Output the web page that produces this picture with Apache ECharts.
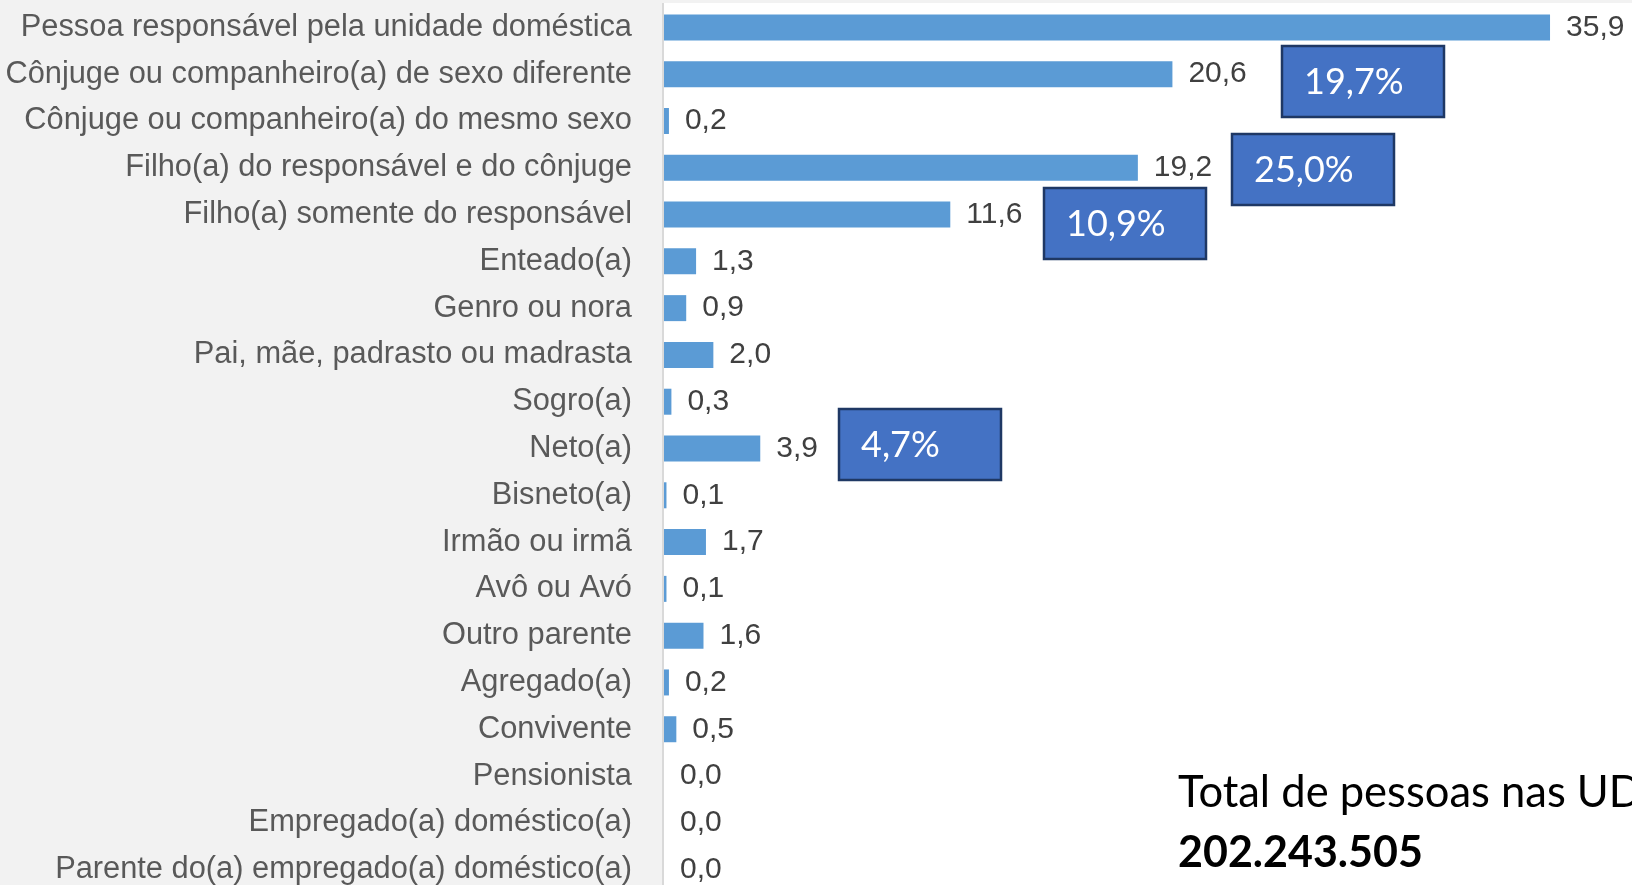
<!DOCTYPE html>
<html>
<head>
<meta charset="utf-8">
<script src="https://cdn.jsdelivr.net/npm/echarts@6/dist/echarts.min.js"></script>
<style>
  html, body { margin: 0; padding: 0; background: #f2f2f2; overflow: hidden; }
  #chart { width: 1632px; height: 900px; }
</style>
</head>
<body>
<div id="chart"></div>
<script>
// distribuição das pessoas por relação com o responsável (%)
const categories = [
  'Pessoa responsável pela unidade doméstica',
  'Cônjuge ou companheiro(a) de sexo diferente',
  'Cônjuge ou companheiro(a) do mesmo sexo',
  'Filho(a) do responsável e do cônjuge',
  'Filho(a) somente do responsável',
  'Enteado(a)',
  'Genro ou nora',
  'Pai, mãe, padrasto ou madrasta',
  'Sogro(a)',
  'Neto(a)',
  'Bisneto(a)',
  'Irmão ou irmã',
  'Avô ou Avó',
  'Outro parente',
  'Agregado(a)',
  'Convivente',
  'Pensionista',
  'Empregado(a) doméstico(a)',
  'Parente do(a) empregado(a) doméstico(a)'
];
const values = [35.9, 20.6, 0.2, 19.2, 11.6, 1.3, 0.9, 2.0, 0.3, 3.9, 0.1, 1.7, 0.1, 1.6, 0.2, 0.5, 0.0, 0.0, 0.0];

// caixas de destaque
const boxTexts = ['19,7%', '25,0%', '10,9%', '4,7%'];
const totalLabel = 'Total de pessoas nas UD';
const totalValue = '202.243.505';

const myChart = echarts.init(document.getElementById('chart'));

const boxPos = [[1282, 46], [1232, 134], [1044, 188], [839, 409]];
const boxes = boxTexts.map((t, i) => ({
  type: 'group',
  x: boxPos[i][0],
  y: boxPos[i][1],
  children: [
    { type: 'rect', shape: { x: 0, y: 0, width: 162, height: 71 },
      style: { fill: '#4472c4', stroke: '#1f3864', lineWidth: 2.5 } },
    { type: 'text', x: 22, y: 36,
      style: { text: t, fill: '#fff', font: '36px Lato, "Open Sans", sans-serif', verticalAlign: 'middle' } }
  ]
}));

const option = {
  backgroundColor: '#f2f2f2',
  animation: false,
  graphic: [
    { type: 'rect', z: -10, shape: { x: 664, y: 3, width: 968, height: 900 }, style: { fill: '#ffffff' } },
    { type: 'rect', z: -9, shape: { x: 662, y: 3, width: 2, height: 900 }, style: { fill: '#d9d9d9' } },
    ...boxes,
    { type: 'text', x: 1178, y: 793,
      style: { text: totalLabel, fill: '#000', font: '43.5px Lato, "Open Sans", sans-serif', verticalAlign: 'middle' } },
    { type: 'text', x: 1178, y: 853,
      style: { text: totalValue, fill: '#000', font: 'bold 43px Lato, "Open Sans", sans-serif', verticalAlign: 'middle' } }
  ],
  grid: { left: 664, right: 79.5, top: 4, height: 889, containLabel: false },
  xAxis: {
    type: 'value', min: 0, max: 36, show: false
  },
  yAxis: {
    type: 'category',
    inverse: true,
    data: categories,
    axisLine: { show: false },
    axisTick: { show: false },
    axisLabel: {
      margin: 32,
      color: '#595959',
      fontSize: 30.8,
      padding: [4, 0, 0, 0],
      fontFamily: '"Liberation Sans", Arial, sans-serif'
    }
  },
  series: [
    {
      type: 'bar',
      data: values,
      barWidth: 26,
      itemStyle: { color: '#5b9bd5' },
      label: {
        show: true,
        position: 'right',
        distance: 16,
        color: '#404040',
        fontSize: 30,
        padding: [3, 0, 0, 0],
        fontFamily: '"Liberation Sans", Arial, sans-serif',
        formatter: p => p.value.toFixed(1).replace('.', ',')
      }
    }
  ]
};
option && myChart.setOption(option);
</script>
</body>
</html>
